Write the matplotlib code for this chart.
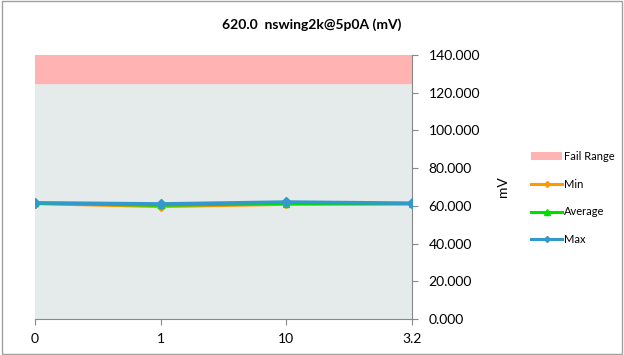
import matplotlib
matplotlib.use("Agg")
import matplotlib.pyplot as plt
from matplotlib.patches import Rectangle
from matplotlib.lines import Line2D

plt.rcParams['font.family'] = ['Lato', 'DejaVu Sans']

categories = ["0", "1", "10", "3.2"]
min_vals = [61.2, 59.6, 60.8, 61.0]
avg_vals = [61.3, 60.3, 61.2, 61.1]
max_vals = [61.6, 61.0, 62.0, 61.4]
fail_low = 125.0
fail_high = 140.0
yticks = [0, 20, 40, 60, 80, 100, 120, 140]

fig = plt.figure(figsize=(6.24, 3.55), dpi=100)
fig.patches.append(Rectangle((0.003, 0.003), 0.994, 0.994, transform=fig.transFigure,
                             fill=False, edgecolor="#A0A0A0", linewidth=1.0))
ax = fig.add_axes([35/624, 1 - 319/355, (412 - 35)/624, (319 - 55)/355])
ax.set_facecolor("#E5EBEB")
x = list(range(len(categories)))
ax.axhspan(fail_low, fail_high, color="#FFB3B3", zorder=1)
ax.plot(x, min_vals, color="#FF9900", lw=2.2, marker="D", ms=4, zorder=3)
ax.plot(x, avg_vals, color="#00DD00", lw=2.2, marker="^", ms=5, zorder=4)
ax.plot(x, max_vals, color="#3399CC", lw=2.6, marker="D", ms=5, zorder=5)
ax.set_xlim(0, len(categories) - 1)
ax.set_ylim(0, 140)
ax.set_xticks(x)
ax.set_xticklabels(categories)
ax.set_yticks(yticks)
ax.set_yticklabels([f"{v:.3f}" for v in yticks])
ax.yaxis.tick_right()
ax.yaxis.set_label_position("right")
ax.set_ylabel("mV", fontsize=10, labelpad=12)
for s in ["top", "left"]:
    ax.spines[s].set_visible(False)
ax.spines["right"].set_color("#888888")
ax.spines["bottom"].set_color("#888888")
ax.tick_params(axis="y", length=4, color="#888888", labelsize=10, pad=8)
ax.tick_params(axis="x", length=4, color="#888888", labelsize=10, pad=6, direction="out")
fig.text(0.5, 0.93, "620.0  nswing2k@5p0A (mV)", ha="center", va="center", fontsize=10, fontweight="bold")

handles = [Rectangle((0, 0), 1, 1, facecolor="#FFB3B3"),
           Line2D([], [], color="#FF9900", lw=2.2, marker="D", ms=3),
           Line2D([], [], color="#00DD00", lw=2.2, marker="^", ms=4),
           Line2D([], [], color="#3399CC", lw=2.2, marker="D", ms=3)]
fig.legend(handles, ["Fail Range", "Min", "Average", "Max"], loc="center left",
           bbox_to_anchor=(0.835, 0.442), frameon=False, fontsize=8, labelspacing=1.5,
           handlelength=2.8, handletextpad=0.2)
fig.savefig("out.png", dpi=100)
